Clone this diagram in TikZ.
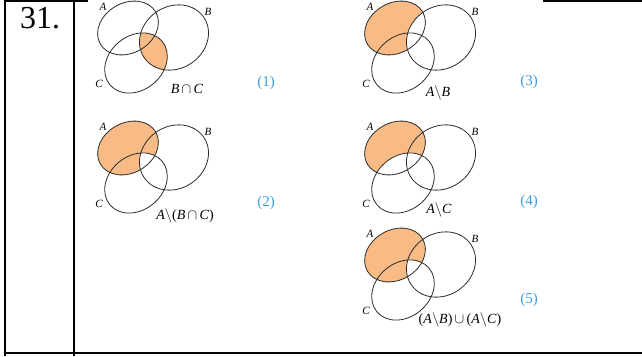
\documentclass[tikz,border=0pt]{standalone}
\usepackage{fontspec}
\setmainfont{Liberation Serif}
\usepackage{tikz}
\definecolor{orangex}{HTML}{F9BB85}
\definecolor{numblue}{HTML}{3AA0DC}
\definecolor{rim}{HTML}{2B2B2B}
\tikzset{
  rim/.style={draw=rim,line width=0.8pt},
  lab/.style={font=\fontsize{11}{11}\selectfont\itshape,inner sep=0pt},
  expr/.style={font=\fontsize{14}{14}\selectfont,inner sep=0pt},
  num/.style={font=\fontsize{15}{15}\selectfont,text=numblue,inner sep=0pt},
  rule/.style={line width=2pt,black}
}
% the three sets of one diagram, in its own frame
\newcommand{\setA}{(128,28) ellipse [x radius=32pt,y radius=25pt,rotate=30]}
\newcommand{\setB}{(174,37.5) ellipse [x radius=36pt,y radius=31pt,rotate=34]}
\newcommand{\setC}{(136,63) ellipse [x radius=34pt,y radius=27pt,rotate=40]}
\newcommand{\rims}{\draw[rim] \setA; \draw[rim] \setB; \draw[rim] \setC;}
\newcommand{\letters}[1]{%
  \node[lab] (la) at (103,7) {A};
  \node[lab] (lb) at (208,12) {B};
  \node[lab] (lc) at (99,84) {C};
  \node[expr] (ex) at #1}

\begin{document}
\begin{tikzpicture}[x=1pt,y=-1pt]
\useasboundingbox (0,0) rectangle (642,356);
% table frame
\draw[rule] (5,0) -- (5,356);
\draw[rule] (74,0) -- (74,356);
\draw[rule] (4,353) -- (642,353);
\draw[line width=1.5pt] (4,0.75) -- (88,0.75);
\draw[line width=1.5pt] (543,0.75) -- (642,0.75);
\node[font=\fontsize{32}{32}\selectfont,inner sep=0pt] (qno) at (40,18) {31.};

% (1) B cap C
\begin{scope}
  \begin{scope} \clip \setB; \fill[orangex] \setC; \end{scope}
  \rims
  \letters{(187,89) {\textit{B}\,$\cap$\,\textit{C}}};
\end{scope}
\node[num] (n1) at (266,83) {(1)};

% (2) A minus (B cap C)
\begin{scope}[shift={(0,120)}]
  \fill[orangex] \setA;
  \begin{scope} \clip \setA; \clip \setB; \fill[white] \setC; \end{scope}
  \rims
  \letters{(185,96) {\textit{A}$\setminus$(\textit{B}\,$\cap$\,\textit{C})}};
\end{scope}
\node[num] (n2) at (266,203) {(2)};

% (3) A minus B
\begin{scope}[shift={(267,0)}]
  \fill[orangex] \setA;
  \begin{scope} \clip \setA; \fill[white] \setB; \end{scope}
  \rims
  \letters{(171,93) {\textit{A}$\setminus$\textit{B}}};
\end{scope}
\node[num] (n3) at (529,82) {(3)};

% (4) A minus C
\begin{scope}[shift={(267,120)}]
  \fill[orangex] \setA;
  \begin{scope} \clip \setA; \fill[white] \setC; \end{scope}
  \rims
  \letters{(172,90) {\textit{A}$\setminus$\textit{C}}};
\end{scope}
\node[num] (n4) at (529,202) {(4)};

% (5) (A minus B) cup (A minus C)
\begin{scope}[shift={(267,227)}]
  \fill[orangex] \setA;
  \begin{scope} \clip \setA; \clip \setB; \fill[white] \setC; \end{scope}
  \rims
  \letters{(193,93) {(\textit{A}$\setminus$\textit{B})\,$\cup$\,(\textit{A}$\setminus$\textit{C})}};
\end{scope}
\node[num] (n5) at (529,300) {(5)};
\end{tikzpicture}
\end{document}
